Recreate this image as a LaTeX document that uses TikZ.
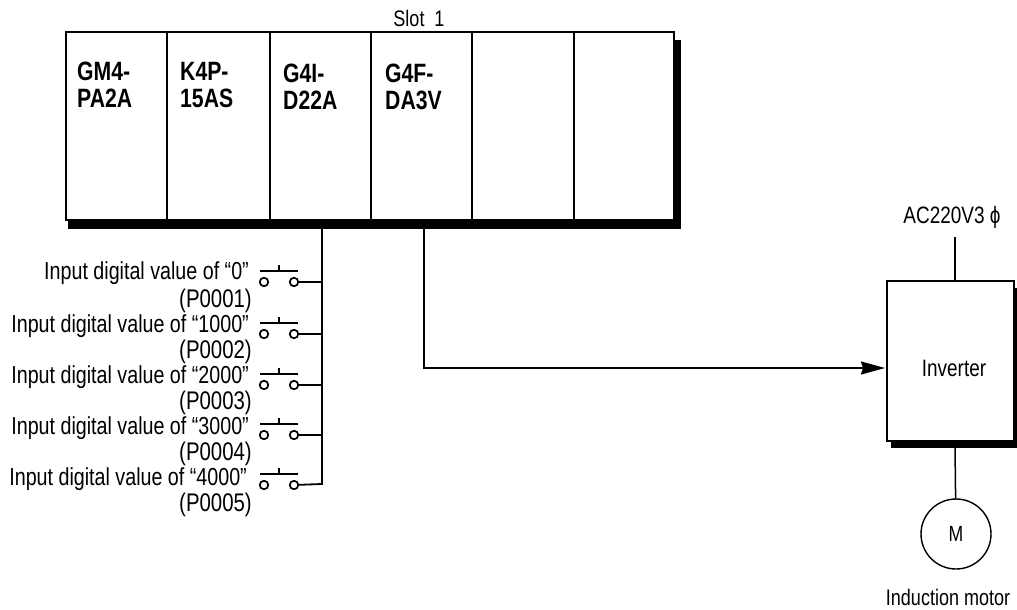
\documentclass[tikz,border=0pt]{standalone}
\usepackage{fontspec}
\setmainfont[FakeStretch=0.8]{Liberation Sans}
\usetikzlibrary{arrows.meta, positioning}
\tikzset{
    myslot/.style = {
        rectangle,
        draw=black,
        fill=white,
        line width=1.7pt,
        minimum height=188pt,
        inner sep=0pt,
        outer sep=0pt
    },
    myinverter/.style = {
        rectangle,
        draw=black,
        fill=white,
        line width=1.7pt,
        minimum width=127pt,
        minimum height=160pt,
        inner sep=0pt,
        outer sep=0pt
    },
    mymotor/.style = {
        circle,
        draw=black,
        line width=1.4pt,
        minimum size=70pt,
        inner sep=0pt,
        outer sep=0pt,
        font=\fontsize{22}{26}\selectfont
    },
    mymodule/.style = {
        anchor=north west,
        align=left,
        inner sep=0pt,
        font=\fontsize{26.5}{27}\selectfont\bfseries
    },
    myinput/.style = {
        anchor=east,
        inner sep=0pt,
        font=\fontsize{24.6}{28}\selectfont
    },
    mycode/.style = {
        anchor=east,
        inner sep=0pt,
        font=\fontsize{25.5}{28}\selectfont
    },
    mytext/.style = {
        inner sep=0pt,
        font=\fontsize{23.7}{28}\selectfont
    },
    mycontact/.style = {
        circle,
        draw=black,
        line width=1.7pt,
        minimum size=8.5pt,
        inner sep=0pt,
        outer sep=0pt
    },
    myline/.style = {
        line width=1.5pt
    },
    myarrow/.style = {
        line width=1.4pt,
        -{Stealth[length=24pt, width=13pt, inset=2pt]}
    },
    myswitch/.pic = {
        \node (-a) [mycontact] at (-15,0) {};
        \node (-b) [mycontact] at (15,0) {};
        \draw [myline] (-19,-11) -- (19,-11);
        \draw [myline] (0,-11) -- (0,-17);
    }
}

\begin{document}
\begin{tikzpicture}[x=1pt, y=-1pt]
\useasboundingbox (0,0) rectangle (1017,610);

% Sombra do rack
\fill (68,40) rectangle (681,229);

% Rack com os slots
\node (slot0) [myslot, minimum width=101pt] at (116.5,126) {};
\node (slot1) [myslot, minimum width=103pt] at (218.5,126) {};
\node (slot2) [myslot, minimum width=101pt] at (320.5,126) {};
\node (slot3) [myslot, minimum width=101pt] at (421.5,126) {};
\node (slot4) [myslot, minimum width=102pt] at (523,126) {};
\node (slot5) [myslot, minimum width=100pt] at (624,126) {};

\node (gm4) [mymodule] at (77,62) {GM4-\\PA2A};
\node (k4p) [mymodule] at (180,62) {K4P-\\15AS};
\node (g4i) [mymodule] at (283,64) {G4I-\\D22A};
\node (g4f) [mymodule] at (385,64) {G4F-\\DA3V};
\node (slotlabel) [mytext, font=\fontsize{22.5}{26}\selectfont] at (419,18) {Slot\ \ 1};

% Chaves de entrada
\pic (sw0) at (279,282) {myswitch};
\pic (sw1) at (279,334) {myswitch};
\pic (sw2) at (279,385) {myswitch};
\pic (sw3) at (279,435) {myswitch};
\pic (sw4) at (279,485) {myswitch};

\node (in0) [myinput] at (249,273) {Input digital value of “0”};
\node (in1) [myinput] at (249,326) {Input digital value of “1000”};
\node (in2) [myinput] at (249,377) {Input digital value of “2000”};
\node (in3) [myinput] at (249,428) {Input digital value of “3000”};
\node (in4) [myinput] at (247,479) {Input digital value of “4000”};
\node (p0) [mycode] at (252,301) {(P0001)};
\node (p1) [mycode] at (252,352) {(P0002)};
\node (p2) [mycode] at (252,403) {(P0003)};
\node (p3) [mycode] at (252,454) {(P0004)};
\node (p4) [mycode] at (252,505) {(P0005)};

% Barramento das chaves
\coordinate (bustop) at (322,228);
\coordinate (bus0) at (322,282);
\coordinate (bus1) at (322,334);
\coordinate (bus2) at (322,385);
\coordinate (bus3) at (322,435);
\coordinate (bus4) at (322,484);
\draw [line width=1.8pt] (bustop) -- (bus4) -- (sw4-b);
\draw [myline] (sw0-b) -- (bus0);
\draw [myline] (sw1-b) -- (bus1);
\draw [myline] (sw2-b) -- (bus2);
\draw [myline] (sw3-b) -- (bus3);

% Inversor e motor
\fill (891,288) rectangle (1017,448);
\node (inverter) [myinverter] at (950.5,361) {};
\node (invlabel) [mytext] at (954,368) {Inverter};
\node (motor) [mymotor] at (956,534) {M};
\node (motorlabel) [mytext, font=\fontsize{22.5}{28}\selectfont] at (948,597) {Induction motor};
\node (supply) [mytext] at (952,217) {AC220V3 ϕ};

\coordinate (supplyend) at (955,237);
\coordinate (invtop) at (955,281);
\coordinate (invbottom) at (955,446);
\coordinate (daout) at (424,228);
\coordinate (dacorner) at (424,368);
\coordinate (invin) at (885,368);
\draw [myline] (supplyend) -- (invtop);
\draw [myline] (invbottom) -- (motor);
\draw [myarrow] (daout) -- (dacorner) -- (invin);

\end{tikzpicture}
\end{document}
